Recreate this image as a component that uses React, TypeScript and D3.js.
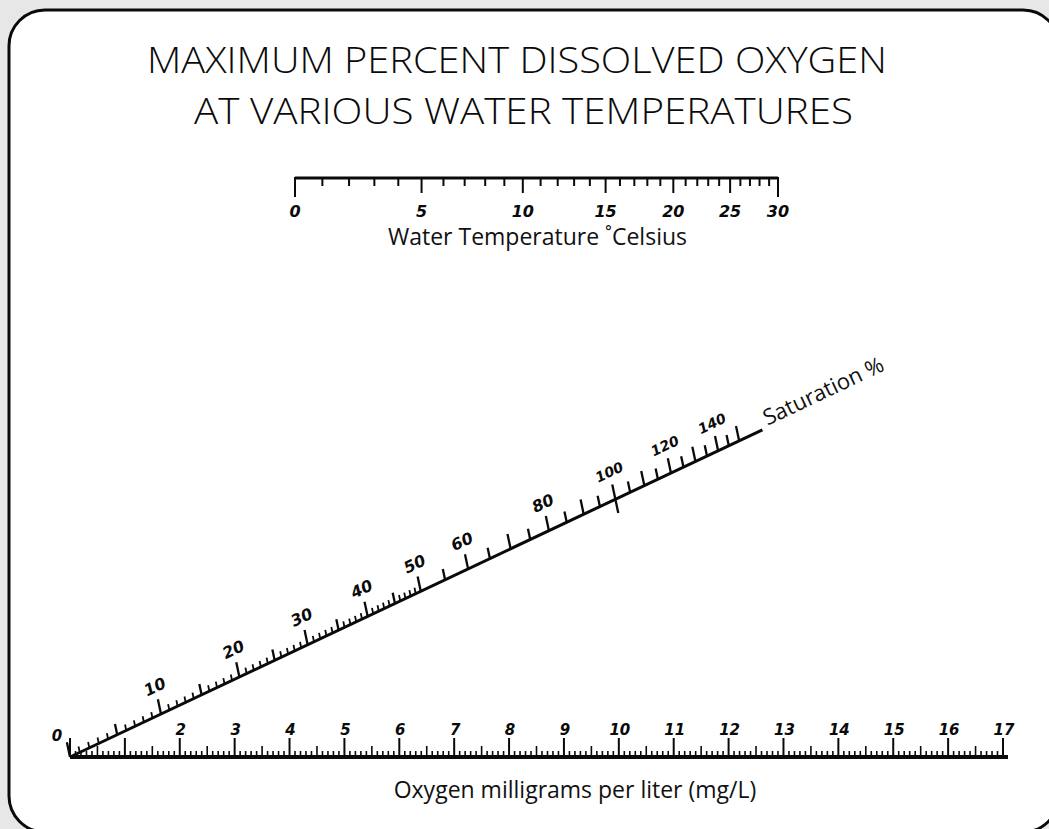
import React from 'react';
import * as d3 from 'd3';

const W = 1049;
const H = 829;

// Water temperature (°C) and oxygen solubility at 100% saturation (mg/L)
const temperatures = [0, 1, 2, 3, 4, 5, 6, 7, 8, 9, 10, 11, 12, 13, 14, 15, 16, 17, 18, 19, 20, 21, 22, 23, 24, 25, 26, 27, 28, 29, 30];
const solubility = [14.62, 14.22, 13.83, 13.46, 13.11, 12.77, 12.45, 12.14, 11.84, 11.56, 11.29, 11.03, 10.78, 10.54, 10.31, 10.08, 9.87, 9.66, 9.47, 9.28, 9.09, 8.91, 8.74, 8.58, 8.42, 8.26, 8.11, 7.97, 7.83, 7.69, 7.56];
const temperatureLabels = [0, 5, 10, 15, 20, 25, 30];

// Oxygen mg/L scale
const oxygenMax = 17;
const oxygenLabels = [0, 2, 3, 4, 5, 6, 7, 8, 9, 10, 11, 12, 13, 14, 15, 16, 17];

// Saturation % scale
const saturationMax = 162;
const saturationLabels = [10, 20, 30, 40, 50, 60, 80, 100, 120, 140];

const titleLines = ['MAXIMUM PERCENT DISSOLVED OXYGEN', 'AT VARIOUS WATER TEMPERATURES'];

const INK = '#0a0a0a';
const digitFont = '"DejaVu Sans", sans-serif';
const labelFont = '"Open Sans", "Noto Sans", sans-serif';

export default function App() {
  const yTop = 178;
  const yBottom = 757;

  const xOxygen = d3.scaleLinear().domain([0, oxygenMax]).range([70, 1003]);
  const xSol = d3.scaleLinear().domain([solubility[0], solubility[solubility.length - 1]]).range([295, 778]);
  const solOf = (t: number) => solubility[temperatures.indexOf(t)];

  // Z-nomogram diagonal: from oxygen 0 (bottom) to solubility 0 (top)
  const P0 = [xOxygen(0), yBottom];
  const P1 = [xSol(0), yTop];
  const aPer = xOxygen(1) - xOxygen(0);
  const bPer = xSol(0) - xSol(1);
  const tOf = (p: number) => {
    const a = (aPer * p) / 100;
    return a / (a + bPer);
  };
  const satPoint = (p: number) => {
    const t = tOf(p);
    return [P0[0] + t * (P1[0] - P0[0]), P0[1] + t * (P1[1] - P0[1])];
  };
  const angle = (Math.atan2(P1[1] - P0[1], P1[0] - P0[0]) * 180) / Math.PI;
  const tilt = (12 * Math.PI) / 180;
  const dir = [-Math.sin(tilt), -Math.cos(tilt)];
  const satEnd = satPoint(saturationMax);

  const oxygenTicks = d3.range(0, oxygenMax * 10 + 1).map((i) => i / 10);
  const satTicks = d3.range(0, 50, 1).concat(d3.range(50, 151, 5));

  const bottomLabelX = (v: number) => (v === 0 ? xOxygen(0) - 13 : xOxygen(v) + 1);
  const bottomLabelY = (v: number) => (v === 0 ? yBottom - 16 : yBottom - 22);

  return (
    <svg width={W} height={H} style={{ position: 'absolute', left: 0, top: 0 }}>
      <rect x={0} y={0} width={W} height={H} fill="#e7e7e7" />
      <rect x={9} y={10} width={1050} height={822} rx={36} ry={36} fill="#ffffff" stroke={INK} strokeWidth={3} />

      {titleLines.map((t, i) => (
        <text
          key={t}
          x={i === 0 ? 517 : 523.5}
          y={i === 0 ? 73 : 124}
          textAnchor="middle"
          fontFamily='"Open Sans", sans-serif'
          fontWeight={300}
          fontSize={37}
          textLength={i === 0 ? 740 : 659}
          lengthAdjust="spacingAndGlyphs"
          fill={INK}
        >
          {t}
        </text>
      ))}

      {/* Temperature scale */}
      <line x1={xSol(solubility[0])} x2={xSol(solubility[solubility.length - 1])} y1={yTop} y2={yTop} stroke={INK} strokeWidth={2.8} />
      {temperatures.map((t, i) => {
        const x = xSol(solubility[i]);
        const len = t === 0 || t === 30 ? 19 : t % 5 === 0 ? 15 : 8;
        return <line key={t} x1={x} x2={x} y1={yTop - 1} y2={yTop + len} stroke={INK} strokeWidth={2} />;
      })}
      {temperatureLabels.map((t) => (
        <text key={t} x={xSol(solOf(t))} y={217} textAnchor="middle" fontFamily={digitFont} fontWeight="bold" fontStyle="italic" fontSize={16} fill={INK}>
          {t}
        </text>
      ))}
      <text x={537.5} y={245} textAnchor="middle" fontFamily={labelFont} fontSize={23} fill="#111">
        Water Temperature ˚Celsius
      </text>

      {/* Saturation diagonal */}
      <line x1={P0[0]} y1={P0[1]} x2={satEnd[0]} y2={satEnd[1]} stroke={INK} strokeWidth={3} />
      {satTicks.map((p) => {
        const [x, y] = satPoint(p);
        const len = p % 10 === 0 ? 15 : p % 5 === 0 ? 11 : 6;
        const below = p === 100 ? 14 : 0;
        return (
          <line
            key={p}
            x1={x - dir[0] * below}
            y1={y - dir[1] * below}
            x2={x + dir[0] * len}
            y2={y + dir[1] * len}
            stroke={INK}
            strokeWidth={p % 5 === 0 ? 2.3 : 1.8}
          />
        );
      })}
      {saturationLabels.map((p) => {
        const [x, y] = satPoint(p);
        const lx = x + dir[0] * 27;
        const ly = y + dir[1] * 27;
        return (
          <text
            key={p}
            x={lx}
            y={ly}
            transform={`rotate(${angle}, ${lx}, ${ly})`}
            textAnchor="middle"
            dominantBaseline="middle"
            fontFamily={digitFont}
            fontWeight="bold"
            fontStyle="italic"
            fontSize={p >= 100 ? 14 : 16}
            fill={INK}
          >
            {p}
          </text>
        );
      })}
      <text
        x={satEnd[0] + 5}
        y={satEnd[1] - 4}
        transform={`rotate(${angle}, ${satEnd[0] + 5}, ${satEnd[1] - 4})`}
        fontFamily={labelFont}
        fontSize={22}
        fill="#111"
      >
        Saturation %
      </text>

      {/* Oxygen scale */}
      <line x1={xOxygen(0)} x2={xOxygen(oxygenMax) + 5} y1={yBottom} y2={yBottom} stroke={INK} strokeWidth={4} />
      {oxygenTicks.map((v) => {
        const i = Math.round(v * 10);
        const len = i % 10 === 0 ? 19 : i % 5 === 0 ? 11 : 6;
        const x = xOxygen(v);
        return <line key={i} x1={x} x2={x} y1={yBottom} y2={yBottom - len} stroke={INK} strokeWidth={i % 10 === 0 ? 2 : 1.6} />;
      })}
      {oxygenLabels.map((v) => (
        <text key={v} x={bottomLabelX(v)} y={bottomLabelY(v)} textAnchor="middle" fontFamily={digitFont} fontWeight="bold" fontStyle="italic" fontSize={15} fill={INK}>
          {v}
        </text>
      ))}
      <text x={575} y={798} textAnchor="middle" fontFamily={labelFont} fontSize={23} fill="#111">
        Oxygen milligrams per liter (mg/L)
      </text>
    </svg>
  );
}
